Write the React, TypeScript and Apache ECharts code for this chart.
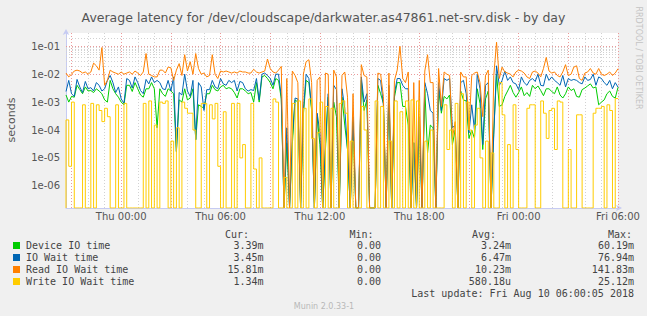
import React, { useEffect, useRef } from "react";
import * as echarts from "echarts";

// ---- axis ranges ----
const Y_MIN = 1.6e-7;
const Y_MAX = 0.3;
const START_UTC = Date.UTC(2018, 7, 8, 20, 40); // Wed 20:40
const STEP_MINUTES = 10;

// ---- tick labels ----
const xTickIndex = [20, 56, 92, 128, 164, 200];
const xTickLabels = ["Thu 00:00", "Thu 06:00", "Thu 12:00", "Thu 18:00", "Fri 00:00", "Fri 06:00"];
const yTickExponents = [-6, -5, -4, -3, -2, -1];
const yTickLabels = ["1e-06", "1e-05", "1e-04", "1e-03", "1e-02", "1e-01"];

// ---- series values, milliseconds (0 = no latency, drawn on the floor) ----
const deviceIoMs = [
  1.8, 1.0, 1.6, 1.5, 4, 2.8, 2, 3.5, 2.5, 2.6, 2.2, 3, 2.5, 2, 1.2, 1.0, 6, 3, 2, 1.5,
  1.0, 0.8, 4, 4, 2.4, 5, 3, 1.8, 1.5, 3, 3, 5, 3,
  0.12, 3, 2, 1.6, 3, 2.5, 2, 0.017, 1.2, 1.0, 3, 1.2, 1.4, 3, 0.045, 0.8, 0.7, 0.6, 2, 2,
  4, 2.8, 2.5, 3.5, 4, 3, 3.3, 3, 2.2, 1.4, 3, 3,
  2.5, 2, 2.2, 1.0, 5, 1.0, 8, 9, 7, 5, 3, 7, 6, 1.3, 0, 0.035, 0, 0.03, 1.2, 1.0,
  0, 0.35, 6, 5, 0.5, 0, 0.3, 0.03, 0, 0.02, 1.5, 0, 1.0,
  0.3, 0, 1.5, 0.15, 0.02, 0, 0.2, 0, 0, 6, 0.5, 1.2, 0, 0, 0, 4, 2, 0.9, 0, 2,
  0, 1.5, 5, 5, 0.7, 0.7, 0.15, 0, 0.035, 0, 0.2, 0, 3,
  0.015, 0.15, 0.12, 0, 3, 0.4, 1.6, 1.3, 1.8, 0.03, 0.1, 0, 2.5, 1.2, 1.1, 0.05, 0.1, 0.05, 3, 0.9,
  0.02, 1.3, 2.5, 0, 0.1, 10, 0.7, 0.8, 1.6, 2.5, 4, 2.2,
  1.5, 2.2, 3.5, 1.7, 2.2, 1.6, 4, 3, 3.8, 2.6, 1.7, 3, 3, 2.4, 2, 3.5, 1.8, 1.4, 2, 3.5,
  2.6, 3, 1.6, 1.5, 2.8, 3.2, 3.8, 4.5, 3.2, 3.5, 0.8, 1.0, 1.2,
  2, 2.5, 1.6, 1.4, 3.39,
];
const ioWaitMs = [
  2.4, 6, 2.0, 1.6, 6.5, 3.5, 2.2, 5.5, 3.0, 3.3, 2.5, 5, 4, 2.5, 3, 6, 9, 5, 2.2, 3.5,
  1.3, 0.9, 7, 6, 3.2, 8, 5, 2.6, 2.0, 6.5, 4.5, 8, 5,
  6, 5, 3, 2.8, 6, 2.5, 8, 0.017, 2.2, 1.8, 10, 2.5, 1.6, 6, 0.045, 5, 3.5, 0.5, 2.8, 2.8,
  6, 3.5, 3, 7, 4.5, 4, 6, 5, 6, 2.5, 5.5, 5,
  3, 2.5, 2.8, 2.6, 7, 1.2, 10, 11, 9, 7, 4, 10, 10, 1.6, 0, 0.12, 0, 0.05, 1.4, 1.3,
  0, 0.5, 10, 7, 0.6, 0, 0.4, 0.08, 0, 0.03, 2, 0, 4,
  2.8, 0, 3, 0.6, 0.02, 0, 0.3, 0, 0, 8, 1, 2, 0, 0, 0, 7, 6, 0.8, 0, 4,
  0, 2, 7, 7, 4, 3, 3, 0, 0.035, 0, 0.3, 0, 5,
  2, 0.5, 0.4, 0, 5, 0.5, 7, 6, 7, 0.12, 0.15, 0, 5, 6, 2, 0.08, 0.8, 0.1, 10, 3,
  0.03, 4, 5, 0, 0.07, 20, 4, 6, 13, 6, 8, 5,
  4.5, 2.8, 8, 5, 4, 6, 7, 5.5, 10, 4, 3.8, 10, 6, 8, 6, 5, 4, 9, 3.5, 7,
  6, 6.5, 6, 5, 4.5, 8, 6, 6.5, 10, 4, 8, 7, 5,
  4, 6, 3, 5, 3.45,
];
const readIoWaitMs = [
  11, 8, 10, 13, 14, 13, 11, 12, 10, 12, 25, 20, 14, 90, 4, 6, 14, 12, 11, 10,
  12, 10, 11, 12, 10, 13, 11, 9, 12, 55, 10, 9, 8,
  8, 14, 14, 11, 18, 17, 6, 14, 24, 9, 50, 13, 28, 10, 55, 16, 10, 11, 8, 9,
  50, 10, 7, 13, 12, 13, 12, 11, 12, 11, 13, 12,
  12, 11, 11, 15, 12, 11, 12, 13, 35, 16, 12, 11, 14, 19, 0, 7, 0, 13, 9, 5,
  0, 10, 28, 33, 5, 0, 6, 8, 0, 11, 10, 0, 14,
  8, 0, 9, 12, 1.5, 0, 2, 0, 0, 22, 9, 8, 0, 0, 0, 11, 10, 1.6, 0, 11,
  0, 6, 14, 100, 7, 5, 12, 0, 5, 0, 6, 0, 13,
  50, 5, 5, 0, 16, 0.7, 12, 10, 9, 0.05, 0.2, 0, 12, 8, 8, 0.1, 9, 11, 12, 5,
  0.3, 9, 14, 0, 9, 140, 7, 18, 12, 11, 10, 8,
  12, 14, 13, 11, 8, 7, 12, 13, 11, 8, 16, 40, 13, 11, 12, 9, 8, 12, 22, 9,
  10, 18, 20, 7, 6, 11, 12, 16, 11, 10, 16, 10, 9,
  10, 12, 9, 11, 15.8,
];
const writeIoWaitMs = [
  0, 0.23, 0.005, 1.0, 0, 0, 0, 0.8, 0, 0, 0.9, 0, 0.8, 0.5, 0.2, 0.6, 0.3, 0, 0, 0.8,
  0, 0, 0.9, 0, 0, 0, 0, 0, 0, 0.9, 0, 1.1, 0,
  0.15, 0, 1.0, 0.9, 1.1, 0, 0.04, 0, 0.12, 0, 1.0, 0.6, 0.4, 0.4, 0.1, 0, 0, 0.9, 0.9, 0,
  0.8, 0.25, 0.9, 0.005, 0, 0.45, 0, 0, 0.9, 0, 0.9, 0.01,
  0.03, 0, 0, 0.9, 0.004, 0, 0.01, 0, 0, 0, 0, 1.3, 1.0, 0, 0, 0.002, 0, 0, 0.9, 0,
  1.1, 0, 0.6, 0, 1.3, 0.05, 0, 0.08, 1.0, 0, 0.7, 0, 0.6,
  0, 0, 0.9, 1.1, 0.4, 0, 0.04, 0, 0, 0, 0.7, 0.1, 0, 0, 0, 1.1, 0, 0.7, 0, 0,
  0.04, 0, 1.1, 0, 0.45, 0, 1.1, 0, 1.2, 0, 1.1, 0, 0,
  0.04, 0, 0.1, 0, 0, 0, 0, 0.8, 0.02, 0.1, 0, 0.9, 0, 2, 0, 1.0, 0.1, 0, 0.15, 0.6,
  0.01, 0, 0.04, 0, 0.015, 0, 0, 5, 0.35, 0, 0.03, 0,
  0.8, 0.02, 0, 0, 0, 0.6, 0.8, 0.8, 0, 0, 1.1, 0.4, 0.05, 0.5, 0.6, 0.02, 1.1, 1.0, 0, 0,
  0.02, 0, 0, 0.35, 0.35, 0, 0, 0, 0, 0.4, 0.6, 0.6, 0.7,
  0, 0.8, 0.5, 0, 1.34,
];

// ---- legend table ----
const seriesNames = ["Device IO time", "IO Wait time", "Read IO Wait time", "Write IO Wait time"];
const seriesColors = ["#00CC00", "#0066B3", "#FF8000", "#FFCC00"];
const curVals = ["3.39m", "3.45m", "15.81m", "1.34m"];
const minVals = ["0.00", "0.00", "0.00", "0.00"];
const avgVals = ["3.24m", "6.47m", "10.23m", "580.18u"];
const maxVals = ["60.19m", "76.94m", "141.83m", "25.12m"];
const headers = ["Cur:", "Min:", "Avg:", "Max:"];
const TITLE = "Average latency for /dev/cloudscape/darkwater.as47861.net-srv.disk - by day";
const LAST_UPDATE = "Last update: Fri Aug 10 06:00:05 2018";
const VERSION = "Munin 2.0.33-1";
const WATERMARK = "RRDTOOL / TOBI OETIKER";

const DAYS = ["Sun", "Mon", "Tue", "Wed", "Thu", "Fri", "Sat"];
const pad = (n: number) => (n < 10 ? "0" + n : "" + n);

export default function App() {
  const ref = useRef<HTMLDivElement>(null);

  useEffect(() => {
    if (!ref.current) return;
    const chart = echarts.init(ref.current, undefined, { renderer: "svg" });

    const times = deviceIoMs.map((_, i) => new Date(START_UTC + i * STEP_MINUTES * 60000));
    const categories = times.map(
      (d) => `${DAYS[d.getUTCDay()]} ${pad(d.getUTCHours())}:${pad(d.getUTCMinutes())}`
    );
    const toSec = (arr: number[]) => arr.map((v) => (v === 0 ? Y_MIN : v / 1000));

    const RED = "#ec9a9a";
    const GRAY = "#d2d2d2";
    const gridLines: any[] = [];
    // vertical: hourly gray, every 3 h red
    times.forEach((d, i) => {
      if (d.getUTCMinutes() === 0) {
        const major = d.getUTCHours() % 3 === 0;
        gridLines.push({
          xAxis: categories[i],
          lineStyle: { color: major ? RED : GRAY, type: [1, 2], width: 1 },
        });
      }
    });
    // horizontal: decades red, 2..9 gray
    for (let e = -7; e <= -1; e++) {
      for (let m = 1; m <= 9; m++) {
        const v = Number((m * Math.pow(10, e)).toPrecision(3));
        if (v <= Y_MIN || v >= Y_MAX) continue;
        gridLines.push({
          yAxis: v,
          lineStyle: { color: m === 1 ? RED : GRAY, type: [1, 2], width: 1 },
        });
      }
    }

    const dataSets = [deviceIoMs, ioWaitMs, readIoWaitMs, writeIoWaitMs];
    const series: any[] = dataSets.map((arr, k) => ({
      type: "line",
      name: seriesNames[k],
      data: toSec(arr),
      step: k === 3 ? "start" : false,
      symbol: "none",
      showSymbol: false,
      silent: true,
      z: 2 + k,
      lineStyle: { width: 1, color: seriesColors[k] },
      itemStyle: { color: seriesColors[k] },
      markLine:
        k === 0
          ? {
              z: 1,
              silent: true,
              symbol: ["none", "none"],
              label: { show: false },
              emphasis: { disabled: true },
              animation: false,
              data: gridLines,
            }
          : undefined,
    }));

    const mono = '"DejaVu Sans Mono", monospace';
    const sans = '"DejaVu Sans", sans-serif';
    const txtColor = "#444";
    const graphics: any[] = [];
    const rowY = [245.5, 257.5, 269.5, 281.5];
    const colRight = [263.5, 381, 511, 634];
    const headRight = [249, 373.5, 496, 632];

    const text = (t: string, x: number, y: number, align: string, font: string, fill: string, extra: any = {}) => ({
      type: "text",
      x,
      y,
      silent: true,
      ...extra,
      style: {
        text: t,
        x: 0,
        y: 0,
        fill,
        font,
        textAlign: align,
        align,
        textVerticalAlign: "middle",
        verticalAlign: "middle",
      },
    });

    graphics.push(text(TITLE, 323.5, 17, "center", `12.5px ${sans}`, "#555"));
    graphics.push(text("seconds", 11, 120, "center", `11px ${sans}`, "#555", { rotation: Math.PI / 2 }));
    graphics.push(text(WATERMARK, 638.5, 58, "center", `8px ${sans}`, "#c4c4c4", { rotation: -Math.PI / 2 }));
    headers.forEach((h, c) => graphics.push(text(h, headRight[c], 234, "right", `10px ${mono}`, txtColor)));
    seriesNames.forEach((n, r) => {
      graphics.push({
        type: "rect",
        silent: true,
        shape: { x: 13, y: rowY[r] - 3.5, width: 7, height: 7 },
        style: { fill: seriesColors[r] },
      });
      graphics.push(text(n, 26, rowY[r], "left", `10px ${mono}`, txtColor));
      const vals = [curVals[r], minVals[r], avgVals[r], maxVals[r]];
      vals.forEach((v, c) => graphics.push(text(v, colRight[c], rowY[r], "right", `10px ${mono}`, txtColor)));
    });
    graphics.push(text(LAST_UPDATE, 634, 293.5, "right", `10px ${mono}`, txtColor));
    graphics.push(text(VERSION, 324, 306, "center", `8px ${sans}`, "#b8b8b8"));

    const axisBlue = "#c6cbf2";

    chart.setOption({
      animation: false,
      backgroundColor: "#f0f0f0",
      textStyle: { fontFamily: sans },
      grid: {
        left: 66,
        right: 29,
        top: 33,
        bottom: 108,
        show: true,
        backgroundColor: "#ffffff",
        borderWidth: 0,
        containLabel: false,
        outerBoundsMode: "none",
      },
      xAxis: {
        type: "category",
        data: categories,
        boundaryGap: false,
        axisLine: {
          show: true,
          onZero: false,
          lineStyle: { color: axisBlue, width: 1 },
          symbol: ["none", "arrow"],
          symbolSize: [5, 6],
          symbolOffset: [0, 4],
        },
        axisTick: { show: false },
        splitLine: { show: false },
        axisLabel: {
          interval: (i: number) => xTickIndex.indexOf(i) >= 0,
          formatter: (_v: string, i: number) => {
            const k = xTickIndex.indexOf(i);
            return k >= 0 ? xTickLabels[k] : "";
          },
          color: "#555",
          fontSize: 10,
          fontFamily: sans,
          margin: 3,
        },
      },
      yAxis: {
        type: "log",
        logBase: 10,
        min: Y_MIN,
        max: Y_MAX,
        axisLine: {
          show: true,
          lineStyle: { color: axisBlue, width: 1 },
          symbol: ["none", "arrow"],
          symbolSize: [5, 6],
          symbolOffset: [0, 4],
        },
        axisTick: { show: false },
        splitLine: { show: false },
        minorSplitLine: { show: false },
        axisLabel: {
          showMinLabel: false,
          showMaxLabel: false,
          formatter: (v: number) => {
            const lg = Math.log10(v);
            const e = Math.round(lg);
            if (Math.abs(lg - e) > 0.01) return "";
            const k = yTickExponents.indexOf(e);
            return k >= 0 ? yTickLabels[k] : "";
          },
          color: "#555",
          fontSize: 10,
          fontFamily: sans,
          margin: 6,
        },
      },
      series,
      graphic: { elements: graphics },
    });

    return () => chart.dispose();
  }, []);

  return (
    <div
      ref={ref}
      style={{ position: "fixed", left: 0, top: 0, width: 647, height: 316 }}
    />
  );
}
